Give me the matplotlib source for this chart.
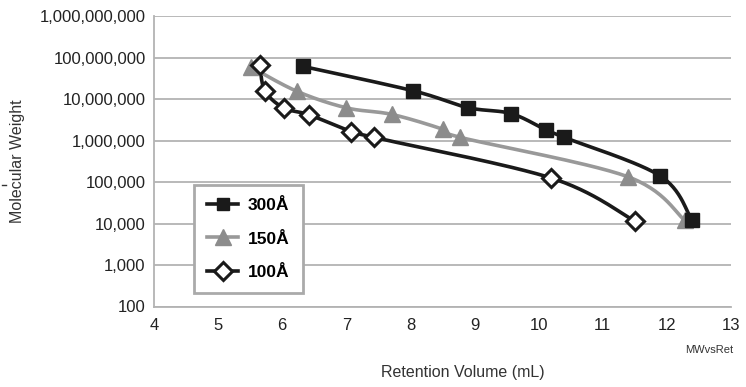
import numpy as np
import matplotlib
matplotlib.use("Agg")
import matplotlib.pyplot as plt
from matplotlib.ticker import FixedLocator, FuncFormatter
from matplotlib.lines import Line2D

plt.rcParams['font.family'] = ['Liberation Sans Narrow', 'Liberation Sans', 'DejaVu Sans']

# Data (retention volume mL, molecular weight)
x300 = [6.32, 8.04, 8.89, 9.57, 10.12, 10.40, 11.90, 12.39]
y300 = [6.2e7, 1.6e7, 6.3e6, 4.5e6, 1.8e6, 1.2e6, 1.4e5, 1.2e4]
x150 = [5.51, 6.23, 7.00, 7.71, 8.50, 8.78, 11.39, 12.28]
y150 = [6.0e7, 1.55e7, 6.2e6, 4.3e6, 1.9e6, 1.2e6, 1.35e5, 1.2e4]
x100 = [5.65, 5.73, 6.02, 6.42, 7.08, 7.43, 10.20, 11.50]
y100 = [6.6e7, 1.6e7, 6.2e6, 4.2e6, 1.65e6, 1.2e6, 1.25e5, 1.15e4]
series_names = ['300Å', '150Å', '100Å']
x_ticks = [4, 5, 6, 7, 8, 9, 10, 11, 12, 13]
y_ticks = [1e2, 1e3, 1e4, 1e5, 1e6, 1e7, 1e8, 1e9]


def smooth(xs, ys, n=30):
    """Excel-like smoothed line (Catmull-Rom bezier) in (x, log10 y) space."""
    px = np.array(xs, float)
    py = np.log10(np.array(ys, float))
    P = np.column_stack([px, py])
    out = []
    m = len(P)
    for i in range(m - 1):
        p0 = P[i - 1] if i > 0 else P[i]
        p1 = P[i]
        p2 = P[i + 1]
        p3 = P[i + 2] if i + 2 < m else P[i + 1]
        c1 = p1 + (p2 - p0) / 6.0
        c2 = p2 - (p3 - p1) / 6.0
        t = np.linspace(0, 1, n)[:, None]
        seg = ((1 - t) ** 3) * p1 + 3 * ((1 - t) ** 2) * t * c1 + 3 * (1 - t) * t ** 2 * c2 + t ** 3 * p2
        out.append(seg if i == 0 else seg[1:])
    S = np.vstack(out)
    return S[:, 0], 10 ** S[:, 1]


fig = plt.figure(figsize=(7.46, 3.87), dpi=100)
ax = fig.add_axes([154 / 746, 1 - 306.5 / 387, (731 - 154) / 746, (306.5 - 16.3) / 387])

ax.set_yscale('log')
ax.set_xlim(4, 13)
ax.set_ylim(1e2, 1e9)

grid_c = '#b3b3b3'
for v in y_ticks:
    ax.axhline(v, color=grid_c, lw=1.3, zorder=0)

black = '#1a1a1a'
gray = '#999999'

sx, sy = smooth(x100, y100)
ax.plot(sx, sy, color=black, lw=2.6, zorder=2, solid_capstyle='butt')
ax.plot(x100, y100, ls='none', marker='D', ms=9, mfc='white', mec=black, mew=2.2, zorder=5)

sx, sy = smooth(x150, y150)
ax.plot(sx, sy, color=gray, lw=2.6, zorder=3)
ax.plot(x150, y150, ls='none', marker='^', ms=11, mfc='#8c8c8c', mec='#8c8c8c', zorder=4)

sx, sy = smooth(x300, y300)
ax.plot(sx, sy, color=black, lw=2.6, zorder=3)
ax.plot(x300, y300, ls='none', marker='s', ms=9.5, mfc=black, mec=black, zorder=6)

for s in ['top', 'right']:
    ax.spines[s].set_visible(False)
ax.spines['left'].set_color(grid_c)
ax.spines['left'].set_linewidth(1.3)
ax.spines['bottom'].set_color(grid_c)
ax.spines['bottom'].set_linewidth(1.3)

ax.yaxis.set_major_locator(FixedLocator(y_ticks))
ax.yaxis.set_minor_locator(FixedLocator([]))
ax.yaxis.set_major_formatter(FuncFormatter(lambda v, p: f"{int(round(v)):,}"))
ax.set_xticks(x_ticks)
ax.set_xticklabels([str(t) for t in x_ticks])
ax.tick_params(axis='both', length=0, labelsize=12, colors='#222222', pad=6)
ax.tick_params(axis='x', pad=8)

ax.set_ylabel('Molecular Weight', fontsize=11.5, color='#333333', labelpad=12)
ax.yaxis.set_label_coords((25 - 154) / 577, 0.5)
fig.text(463 / 746, 1 - 373 / 387, 'Retention Volume (mL)', ha='center', va='center',
         fontsize=11.5, color='#333333')
fig.text(733 / 746, 1 - 350 / 387, 'MWvsRet', ha='right', va='center', fontsize=8, color='#333333')
fig.add_artist(Line2D([1.5 / 746, 6 / 746], [1 - 185 / 387, 1 - 185 / 387],
                      color='#333333', lw=1.0, transform=fig.transFigure))

handles = [
    Line2D([], [], color=black, lw=2.6, marker='s', ms=9, mfc=black, mec=black),
    Line2D([], [], color=gray, lw=2.6, marker='^', ms=11, mfc='#8c8c8c', mec='#8c8c8c'),
    Line2D([], [], color=black, lw=2.6, marker='D', ms=9, mfc='white', mec=black, mew=2.2),
]
leg = ax.legend(handles, series_names, loc='upper left',
                bbox_to_anchor=((194 - 154) / 577, (306.5 - 185) / 290.2),
                frameon=True, fancybox=False, edgecolor='#aaaaaa', framealpha=1,
                prop={'weight': 'bold', 'size': 12.5}, handlelength=1.8,
                labelspacing=1.05, borderpad=0.75, handletextpad=0.55, borderaxespad=0)
leg.get_frame().set_linewidth(2.0)
leg.set_zorder(10)

fig.savefig('out.png', dpi=100)
